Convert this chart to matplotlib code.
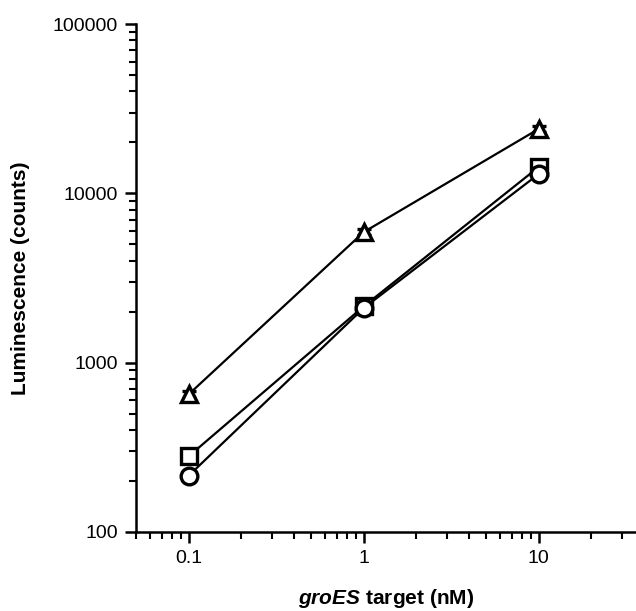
import numpy as np
import matplotlib.pyplot as plt

plt.rcParams['font.family'] = ['Liberation Sans', 'DejaVu Sans']
plt.rcParams['mathtext.fontset'] = 'custom'
plt.rcParams['mathtext.bfit'] = 'Liberation Sans:bold:italic'

# groES target concentrations (nM)
target = [0.1, 1, 10]

# Luminescence (counts), three probe series
lum_triangle = [650, 5900, 24000]
lum_square = [280, 2150, 14300]
lum_circle = [215, 2100, 13000]

# error estimates (small, mostly hidden inside markers)
err_triangle = [30, 250, 900]
err_square = [15, 90, 700]
err_circle = [10, 80, 500]

fig = plt.figure(figsize=(6.36, 6.11), dpi=100)
ax = fig.add_axes([136 / 636, 1 - 532 / 611, 500 / 636, 508 / 611])

series = [
    (lum_triangle, err_triangle, '^'),
    (lum_square, err_square, 's'),
    (lum_circle, err_circle, 'o'),
]
for y, e, m in series:
    ax.errorbar(target, y, yerr=e, fmt='-', color='black', lw=1.6,
                marker=m, markersize=12, markerfacecolor='white',
                markeredgecolor='black', markeredgewidth=2.4,
                ecolor='black', elinewidth=1.6, capsize=5, capthick=1.6)

ax.set_xscale('log')
ax.set_yscale('log')
ax.set_xlim(0.05, 36)
ax.set_ylim(100, 100000)

ax.set_xticks([0.1, 1, 10])
ax.set_xticklabels(['0.1', '1', '10'])
ax.set_yticks([100, 1000, 10000, 100000])
ax.set_yticklabels(['100', '1000', '10000', '100000'])

for s in ['top', 'right']:
    ax.spines[s].set_visible(False)
for s in ['left', 'bottom']:
    ax.spines[s].set_linewidth(1.8)

ax.tick_params(which='major', direction='out', length=8, width=1.8,
               labelsize=14, pad=5)
ax.tick_params(which='minor', direction='out', length=5, width=1.5)

ax.set_xlabel(r'$\mathbfit{groES}$ target (nM)', fontsize=15,
              fontweight='bold', labelpad=14)
ax.set_ylabel('Luminescence (counts)', fontsize=15, fontweight='bold',
              labelpad=16)

fig.savefig('out.png', dpi=100)
